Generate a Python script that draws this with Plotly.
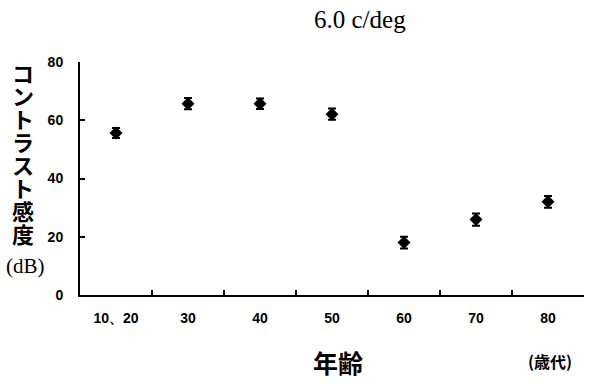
import plotly.graph_objects as go

categories = ["10、20", "30", "40", "50", "60", "70", "80"]
sensitivity = [55.6, 65.7, 65.7, 62.1, 18.0, 25.9, 32.0]
errors = [1.7, 1.9, 1.8, 1.9, 2.0, 2.1, 2.0]
y_ticks = [0, 20, 40, 60, 80]
y_title_chars = list("コントラスト感度")

L, R, T, B = 80, 16, 62, 88
W, H = 600, 383
pw, ph = W - L - R, H - T - B

def px(x):
    return (x - L) / pw

def py(y):
    return (H - B - y) / ph

fig = go.Figure()
fig.add_trace(go.Scatter(
    x=categories, y=sensitivity, mode="markers",
    marker=dict(symbol="diamond", size=10, color="black"),
    error_y=dict(type="data", array=errors, visible=True, color="black", thickness=2, width=4),
    showlegend=False, cliponaxis=False,
))

fig.update_layout(
    width=W, height=H,
    margin=dict(l=L, r=R, t=T, b=B, autoexpand=False),
    paper_bgcolor="white", plot_bgcolor="white",
    font=dict(family="Liberation Sans, Arial", color="black"),
    xaxis=dict(
        type="category", range=[-0.5, 6.5], automargin=False,
        showline=True, linecolor="black", linewidth=2,
        ticks="inside", tickson="boundaries", ticklen=5, tickwidth=2, tickcolor="black",
        tickfont=dict(size=14, family="Liberation Sans, Arial", weight="bold"),
        ticklabelstandoff=9,
        showgrid=False, zeroline=False,
    ),
    yaxis=dict(
        range=[0, 80], tickvals=y_ticks, automargin=False,
        showline=True, linecolor="black", linewidth=2,
        ticks="inside", ticklen=5, tickwidth=2, tickcolor="black",
        tickfont=dict(size=14, family="Liberation Sans, Arial", weight="bold"),
        ticklabelstandoff=12,
        showgrid=False, zeroline=False,
    ),
)

def note(text, x, y, font):
    fig.add_annotation(text=text, x=px(x), y=py(y), xref="paper", yref="paper",
                       xanchor="center", yanchor="middle", showarrow=False, font=font)

note("6.0 c/deg", 360, 20, dict(family="Liberation Serif, Times New Roman", size=25))
for i, ch in enumerate(y_title_chars):
    note(ch, 23, 72 + 23 * i, dict(family="Noto Sans CJK JP", size=22, weight="bold"))
note("(dB)", 25, 266, dict(family="Liberation Serif, Times New Roman", size=21))
note("年齢", 338, 362, dict(family="Noto Sans CJK JP", size=25, weight="bold"))
note("(歳代)", 550, 361, dict(family="Noto Sans CJK JP", size=16, weight="bold"))

fig.write_html("out.html", config={"displayModeBar": False},
               post_script="document.body.style.margin='0';")
